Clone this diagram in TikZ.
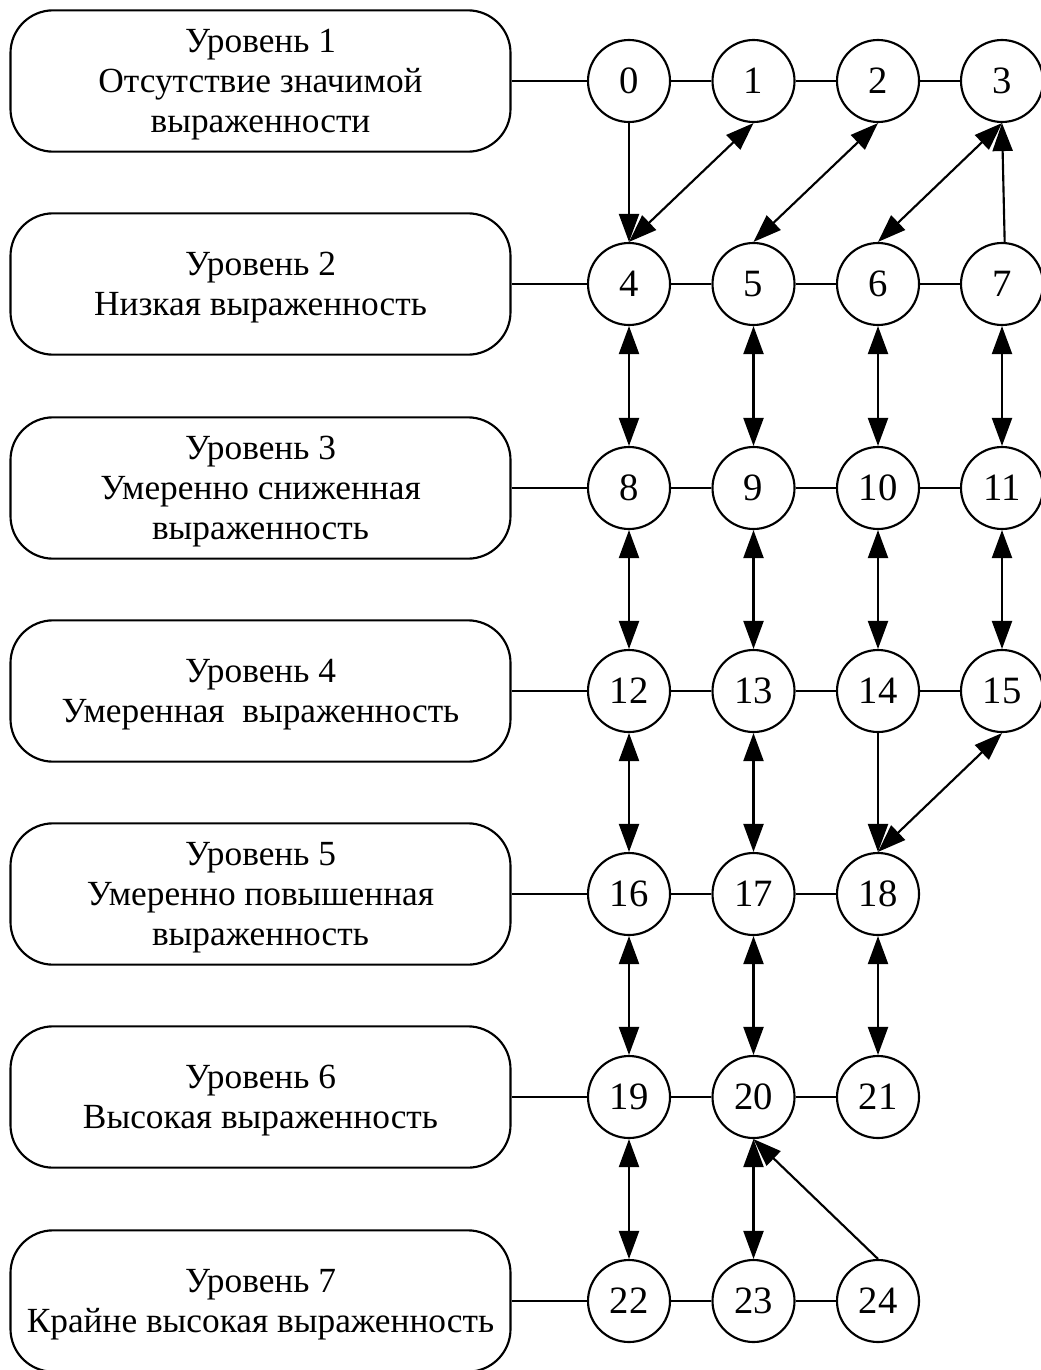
\documentclass[tikz,border=0pt]{standalone}
\usepackage{fontspec}
\setmainfont{Liberation Serif}
\usetikzlibrary{arrows.meta}

\tikzset{
	level box/.style = {draw, rounded corners = 32pt, minimum width = 375pt, minimum height = 106pt, text depth = 0pt, align = center, font = \fontsize{26.5}{30}\selectfont},
	state/.style = {draw, circle, minimum size = 61.5pt, inner sep = 0pt, font = \fontsize{29}{29}\selectfont},
}

\begin{document}
\begin{tikzpicture}[x = 0.75pt, y = -0.75pt, line width = 1.6pt, >={Triangle[length = 21pt, width = 15pt]}]
			\useasboundingbox (0,0) rectangle (1041,1370);
			
			\def\xbox{260.5};
			\def\xa{629};
			\def\xb{753.5};
			\def\xc{878};
			\def\xd{1002};
			\def\ya{81};
			\def\yb{284};
			\def\yc{488};
			\def\yd{691};
			\def\ye{894};
			\def\yf{1097};
			\def\yg{1301};
			
			\node [level box] (level 1) at (\xbox,\ya) {Уровень 1\\Отсутствие значимой\\выраженности};
			\node [level box] (level 2) at (\xbox,\yb) {Уровень 2\\Низкая выраженность};
			\node [level box] (level 3) at (\xbox,\yc) {Уровень 3\\Умеренно сниженная\\выраженность};
			\node [level box] (level 4) at (\xbox,\yd) {Уровень 4\\Умеренная~~выраженность};
			\node [level box] (level 5) at (\xbox,\ye) {Уровень 5\\Умеренно повышенная\\выраженность};
			\node [level box] (level 6) at (\xbox,\yf) {Уровень 6\\Высокая выраженность};
			\node [level box] (level 7) at (\xbox,\yg) {Уровень 7\\Крайне высокая выраженность};
			
			\node [state] (s0) at (\xa,\ya) {0};
			\node [state] (s1) at (\xb,\ya) {1};
			\node [state] (s2) at (\xc,\ya) {2};
			\node [state] (s3) at (\xd,\ya) {3};
			\node [state] (s4) at (\xa,\yb) {4};
			\node [state] (s5) at (\xb,\yb) {5};
			\node [state] (s6) at (\xc,\yb) {6};
			\node [state] (s7) at (\xd,\yb) {7};
			\node [state] (s8) at (\xa,\yc) {8};
			\node [state] (s9) at (\xb,\yc) {9};
			\node [state] (s10) at (\xc,\yc) {10};
			\node [state] (s11) at (\xd,\yc) {11};
			\node [state] (s12) at (\xa,\yd) {12};
			\node [state] (s13) at (\xb,\yd) {13};
			\node [state] (s14) at (\xc,\yd) {14};
			\node [state] (s15) at (\xd,\yd) {15};
			\node [state] (s16) at (\xa,\ye) {16};
			\node [state] (s17) at (\xb,\ye) {17};
			\node [state] (s18) at (\xc,\ye) {18};
			\node [state] (s19) at (\xa,\yf) {19};
			\node [state] (s20) at (\xb,\yf) {20};
			\node [state] (s21) at (\xc,\yf) {21};
			\node [state] (s22) at (\xa,\yg) {22};
			\node [state] (s23) at (\xb,\yg) {23};
			\node [state] (s24) at (\xc,\yg) {24};
			
			\draw (level 1) -- (s0) -- (s1) -- (s2) -- (s3);
			\draw (level 2) -- (s4) -- (s5) -- (s6) -- (s7);
			\draw (level 3) -- (s8) -- (s9) -- (s10) -- (s11);
			\draw (level 4) -- (s12) -- (s13) -- (s14) -- (s15);
			\draw (level 5) -- (s16) -- (s17) -- (s18);
			\draw (level 6) -- (s19) -- (s20) -- (s21);
			\draw (level 7) -- (s22) -- (s23) -- (s24);
			
			\begin{scope}[->]
				\draw (s0.south) -- (s4.north);
				\draw ([xshift = 2pt]s7.north) -- (s3.south);
				\draw (s14.south) -- (s18.north);
				\draw (s24.north) -- (s20.south);
			\end{scope}
			
			\begin{scope}[<->]
				\draw (s1.south) -- (s4.north);
				\draw (s2.south) -- (s5.north);
				\draw (s3.south) -- (s6.north);
				\draw (s4.south) -- (s8.north);
				\draw (s5.south) -- (s9.north);
				\draw (s6.south) -- (s10.north);
				\draw (s7.south) -- (s11.north);
				\draw (s8.south) -- (s12.north);
				\draw (s9.south) -- (s13.north);
				\draw (s10.south) -- (s14.north);
				\draw (s11.south) -- (s15.north);
				\draw (s12.south) -- (s16.north);
				\draw (s13.south) -- (s17.north);
				\draw (s15.south) -- (s18.north);
				\draw (s16.south) -- (s19.north);
				\draw (s17.south) -- (s20.north);
				\draw (s18.south) -- (s21.north);
				\draw (s19.south) -- (s22.north);
				\draw (s20.south) -- (s23.north);
			\end{scope}
		\end{tikzpicture}
\end{document}
